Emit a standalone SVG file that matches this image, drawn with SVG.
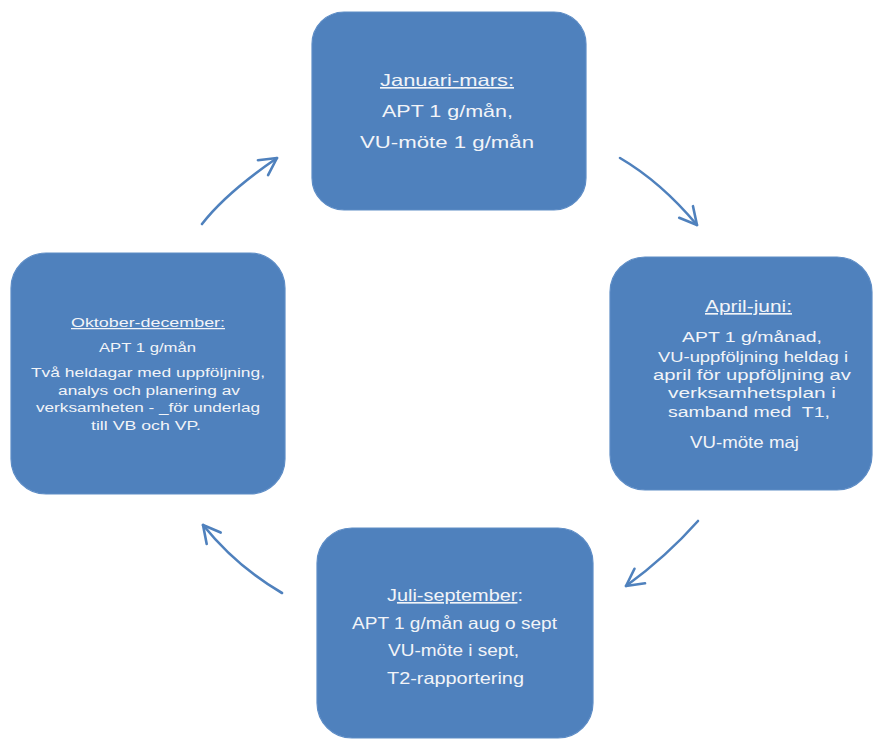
<svg xmlns="http://www.w3.org/2000/svg" width="874" height="740" viewBox="0 0 874 740">
  <style>
    .box { fill: #4F81BD; stroke: #5E8DC6; stroke-width: 1.2; }
    .t { font-family: "Liberation Sans", "Open Sans", sans-serif; fill: #F2F4F8; }
    .big { font-size: 16.5px; }
    .dense { font-size: 15.5px; }
    .small { font-size: 12.5px; }
    .u { text-decoration: underline; }
    .conn { fill: none; stroke: #4F81BD; stroke-width: 2.6; stroke-linecap: round; }
  </style>
  <defs>
    <marker id="arr" markerUnits="userSpaceOnUse" markerWidth="40" markerHeight="40" viewBox="-20 -20 40 40" refX="0" refY="0" orient="auto">
      <path d="M-17,-9 L0,0 L-17,9" fill="none" stroke="#4F81BD" stroke-width="2.6" stroke-linecap="round" stroke-linejoin="round"/>
    </marker>
  </defs>
  <rect width="874" height="740" fill="#FFFFFF"/>

  <g id="connectors">
    <path class="conn" d="M620,158 Q661,182 697,225" marker-end="url(#arr)"/>
    <path class="conn" d="M698,521 Q666,557 626,586" marker-end="url(#arr)"/>
    <path class="conn" d="M282,593 Q237,567 203,525" marker-end="url(#arr)"/>
    <path class="conn" d="M202,224 Q226,193 277,158" marker-end="url(#arr)"/>
  </g>

  <g id="node-januari-mars">
    <rect class="box" x="312" y="12" width="274" height="198" rx="32" ry="32"/>
    <text class="t big u" x="380" y="86" textLength="134" lengthAdjust="spacingAndGlyphs">Januari-mars:</text>
    <text class="t big" x="382" y="117" textLength="131" lengthAdjust="spacingAndGlyphs">APT 1 g/mån,</text>
    <text class="t big" x="360" y="148" textLength="174" lengthAdjust="spacingAndGlyphs">VU-möte 1 g/mån</text>
  </g>

  <g id="node-april-juni">
    <rect class="box" x="610" y="257" width="262" height="233" rx="35" ry="35"/>
    <text class="t big u" x="705" y="312" textLength="87" lengthAdjust="spacingAndGlyphs">April-juni:</text>
    <text class="t dense" x="682" y="342" textLength="140" lengthAdjust="spacingAndGlyphs">APT 1 g/månad,</text>
    <text class="t dense" x="658" y="362" textLength="190" lengthAdjust="spacingAndGlyphs">VU-uppföljning heldag i</text>
    <text class="t dense" x="653" y="380" textLength="198" lengthAdjust="spacingAndGlyphs">april för uppföljning av</text>
    <text class="t dense" x="668" y="398" textLength="168" lengthAdjust="spacingAndGlyphs">verksamhetsplan i</text>
    <text class="t dense" x="668" y="417" textLength="162" lengthAdjust="spacingAndGlyphs" xml:space="preserve">samband med  T1,</text>
    <text class="t big" x="690" y="448" textLength="109" lengthAdjust="spacingAndGlyphs">VU-möte maj</text>
  </g>

  <g id="node-juli-september">
    <rect class="box" x="317" y="528" width="276" height="210" rx="35" ry="35"/>
    <text class="t big" x="387" y="601" textLength="136" lengthAdjust="spacingAndGlyphs">J<tspan class="u">uli-september</tspan>:</text>
    <text class="t big" x="352" y="629" textLength="205" lengthAdjust="spacingAndGlyphs">APT 1 g/mån aug o sept</text>
    <text class="t big" x="388" y="656" textLength="131" lengthAdjust="spacingAndGlyphs">VU-möte i sept,</text>
    <text class="t big" x="387" y="684" textLength="137" lengthAdjust="spacingAndGlyphs">T2-rapportering</text>
  </g>

  <g id="node-oktober-december">
    <rect class="box" x="11" y="253" width="274" height="241" rx="35" ry="35"/>
    <text class="t small u" x="71" y="327" textLength="154" lengthAdjust="spacingAndGlyphs">Oktober-december:</text>
    <text class="t small" x="99" y="352" textLength="97" lengthAdjust="spacingAndGlyphs">APT 1 g/mån</text>
    <text class="t small" x="31" y="377" textLength="234" lengthAdjust="spacingAndGlyphs">Två heldagar med uppföljning,</text>
    <text class="t small" x="58" y="395" textLength="182" lengthAdjust="spacingAndGlyphs">analys och planering av</text>
    <text class="t small" x="36" y="412" textLength="224" lengthAdjust="spacingAndGlyphs">verksamheten - _för underlag</text>
    <text class="t small" x="91" y="430" textLength="110" lengthAdjust="spacingAndGlyphs">till VB och VP.</text>
  </g>
</svg>
